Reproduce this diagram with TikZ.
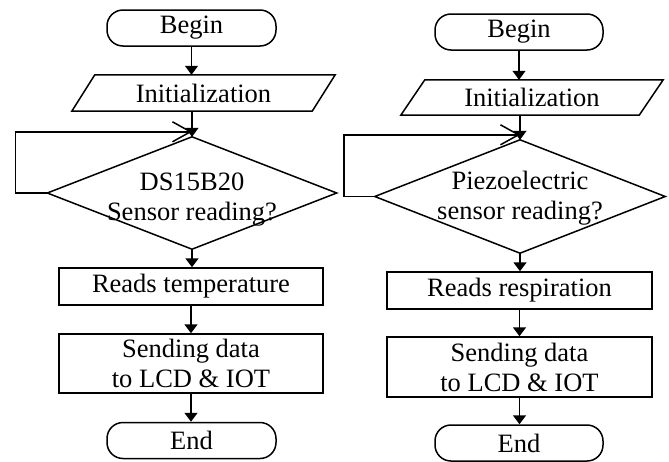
\documentclass[tikz,border=0pt]{standalone}
\usepackage{fontspec}
\setmainfont{Liberation Serif}
\usetikzlibrary{arrows.meta}
\begin{document}
\begin{tikzpicture}[x=1pt,y=-1pt,
  every node/.style={font=\fontsize{26.5}{30}\selectfont, inner sep=0pt, align=center},
  term/.style={draw, line width=1.5pt, rounded corners=16pt, minimum width=169pt, minimum height=36pt},
  procbox/.style={draw, line width=1.5pt, minimum width=264pt},
  flow/.style={line width=1.5pt, -{Triangle[length=9pt,width=13pt]}},
  loopline/.style={line width=1.5pt, -{Straight Barb[length=18pt,width=20pt]}},
  outline/.style={line width=1.5pt}
]
\useasboundingbox (0,0) rectangle (669,461);

% ---------- left chart ----------
\node[term] (b1) at (191.5,28) {Begin};
\node[minimum width=240pt, minimum height=36pt] (i1) at (203.5,93) {Initialization};
\draw[outline] ([xshift=-11.5pt]i1.south west) -- ([xshift=11.5pt]i1.north west)
  -- ([xshift=11.5pt]i1.north east) -- ([xshift=-11.5pt]i1.south east) -- cycle;
\node[minimum width=289pt, minimum height=112pt] (d1) at (192,193) {};
\draw[outline] (d1.north) -- (d1.east) -- (d1.south) -- (d1.west) -- cycle;
\node (t1) at (192,200) {DS15B20\\Sensor reading?};
\node[procbox, minimum height=37pt] (r1) at (191,286.5) {Reads temperature};
\node[procbox, minimum height=59pt] (s1) at (191,363.5) {Sending data\\to LCD \& IOT};
\node[term] (e1) at (191.5,440.5) {End};

\draw[flow] (b1.south) -- (b1.south |- i1.north);
\draw[flow] (d1.north |- i1.south) -- (d1.north);
\draw[flow] (d1.south) -- (d1.south |- r1.north);
\draw[flow] (r1.south) -- (s1.north);
\draw[flow] (s1.south) -- (s1.south |- e1.north);
\draw[loopline] (d1.west) -- ++(-32,0) |- ([yshift=5pt]d1.north);

% ---------- right chart ----------
\node[term, minimum width=168pt] (b2) at (519,32) {Begin};
\node[minimum width=238pt, minimum height=35pt] (i2) at (532,97.5) {Initialization};
\draw[outline] ([xshift=-12pt]i2.south west) -- ([xshift=12pt]i2.north west)
  -- ([xshift=12pt]i2.north east) -- ([xshift=-12pt]i2.south east) -- cycle;
\node[minimum width=290pt, minimum height=113pt] (d2) at (520,196.5) {};
\draw[outline] (d2.north) -- (d2.east) -- (d2.south) -- (d2.west) -- cycle;
\node (t2) at (520,198) {Piezoelectric\\sensor reading?};
\node[procbox, minimum width=265pt, minimum height=37pt] (r2) at (519.5,290.5) {Reads respiration};
\node[procbox, minimum width=265pt, minimum height=60pt] (s2) at (519.5,367) {Sending data\\to LCD \& IOT};
\node[term, minimum width=168pt] (e2) at (519,443) {End};

\draw[flow] (b2.south) -- (b2.south |- i2.north);
\draw[flow] (d2.north |- i2.south) -- (d2.north);
\draw[flow] (d2.south) -- (d2.south |- r2.north);
\draw[flow] (r2.south) -- (r2.south |- s2.north);
\draw[flow] (s2.south) -- (s2.south |- e2.north);
\draw[loopline] (d2.west) -- ++(-31,0) |- ([yshift=5pt]d2.north);
\end{tikzpicture}
\end{document}
